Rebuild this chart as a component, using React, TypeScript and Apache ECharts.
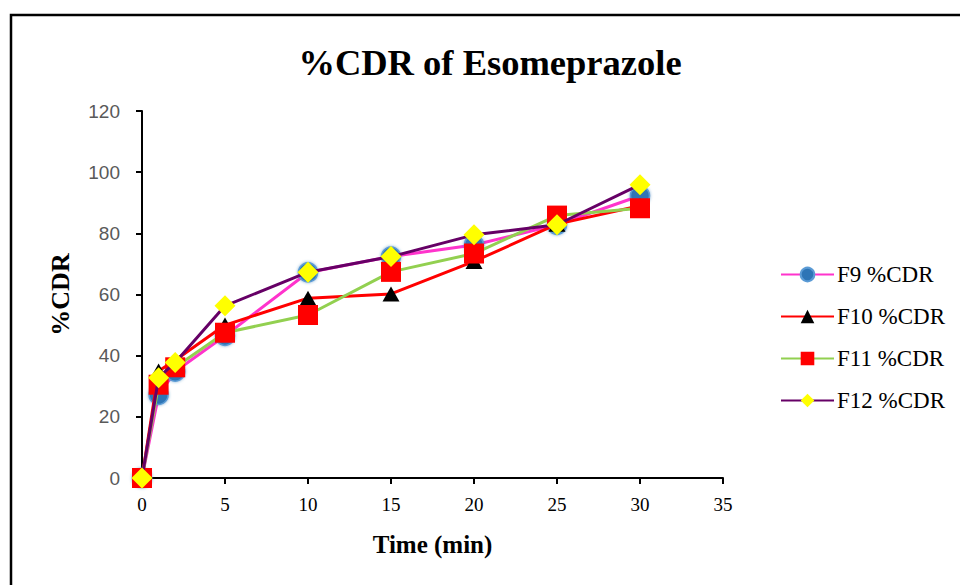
import React, { useEffect, useRef } from "react";
import * as echarts from "echarts";

const times = [0, 1, 2, 5, 10, 15, 20, 25, 30];
const f9 = [0, 27.2, 34.8, 46.5, 67.2, 72.4, 76.2, 82.8, 92.3];
const f10 = [0, 35, 38.5, 50, 58.8, 60.2, 70.8, 83, 89];
const f11 = [0, 30.5, 36.2, 47.5, 53.3, 67.4, 73.4, 85.8, 88.2];
const f12 = [0, 32.8, 37.8, 56.3, 67.3, 72.4, 79.5, 82.8, 95.9];
const seriesNames = ["F9 %CDR", "F10 %CDR", "F11 %CDR", "F12 %CDR"];

const pair = (vals: number[]) => times.map((t, i) => [t, vals[i]]);

export default function App() {
  const ref = useRef<HTMLDivElement>(null);
  useEffect(() => {
    const chart = echarts.init(ref.current!, null, { renderer: "svg" });
    const serif = "Liberation Serif";
    chart.setOption({
      animation: false,
      backgroundColor: "#ffffff",
      title: {
        text: "%CDR of Esomeprazole",
        left: 485,
        textAlign: "center",
        top: 39,
        textStyle: { fontFamily: serif, fontWeight: "bold", fontSize: 36.5, color: "#000" },
      },
      graphic: [
        {
          type: "rect",
          shape: { x: 11, y: 15, width: 1000, height: 1000 },
          style: { fill: "none", stroke: "#000", lineWidth: 2.5 },
          silent: true,
        },
      ],
      grid: { left: 142, right: 237, top: 111, bottom: 107 },
      legend: {
        orient: "vertical",
        left: 775,
        top: 258,
        itemGap: 19,
        itemWidth: 53,
        itemHeight: 17,
        data: seriesNames,
        textStyle: { fontFamily: serif, fontSize: 23, color: "#000", padding: [0, 0, 0, -2] },
      },
      xAxis: {
        type: "value",
        min: 0,
        max: 35,
        interval: 5,
        name: "Time (min)",
        nameLocation: "middle",
        nameGap: 54,
        nameTextStyle: { fontFamily: serif, fontWeight: "bold", fontSize: 25, color: "#000" },
        axisLine: { show: true, lineStyle: { color: "#000", width: 2 } },
        axisTick: { show: true, length: 6, lineStyle: { color: "#000", width: 2 } },
        axisLabel: { fontFamily: serif, fontSize: 19, color: "#000", margin: 17 },
        splitLine: { show: false },
      },
      yAxis: {
        type: "value",
        min: 0,
        max: 120,
        interval: 20,
        name: "%CDR",
        nameLocation: "middle",
        nameGap: 69,
        nameRotate: 90,
        nameTextStyle: { fontFamily: serif, fontWeight: "bold", fontSize: 26, color: "#000" },
        axisLine: { show: true, lineStyle: { color: "#000", width: 2 } },
        axisTick: { show: true, length: 6, lineStyle: { color: "#000", width: 2 } },
        axisLabel: { fontFamily: "Liberation Sans", fontSize: 19, color: "#595959", margin: 22 },
        splitLine: { show: false },
      },
      series: [
        {
          name: seriesNames[0],
          type: "line",
          data: pair(f9),
          symbol: "circle",
          symbolSize: 19,
          lineStyle: { color: "#FF33CC", width: 3 },
          itemStyle: { color: "#2E75B6", borderColor: "#5B9BD5", borderWidth: 1.5, shadowBlur: 3, shadowColor: "rgba(46,117,182,0.6)" },
          z: 2,
        },
        {
          name: seriesNames[1],
          type: "line",
          data: pair(f10),
          symbol: "triangle",
          symbolSize: [17, 15],
          lineStyle: { color: "#FF0000", width: 3 },
          itemStyle: { color: "#000000" },
          z: 3,
        },
        {
          name: seriesNames[2],
          type: "line",
          data: pair(f11),
          symbol: "rect",
          symbolSize: 20,
          lineStyle: { color: "#92D050", width: 3 },
          itemStyle: { color: "#FF0000" },
          z: 4,
        },
        {
          name: seriesNames[3],
          type: "line",
          data: pair(f12),
          symbol: "diamond",
          symbolSize: 21,
          lineStyle: { color: "#660066", width: 3 },
          itemStyle: { color: "#FFFF00" },
          z: 5,
        },
      ],
    });
    return () => chart.dispose();
  }, []);
  return (
    <div
      ref={ref}
      style={{ position: "fixed", left: 0, top: 0, width: 960, height: 585 }}
    />
  );
}
